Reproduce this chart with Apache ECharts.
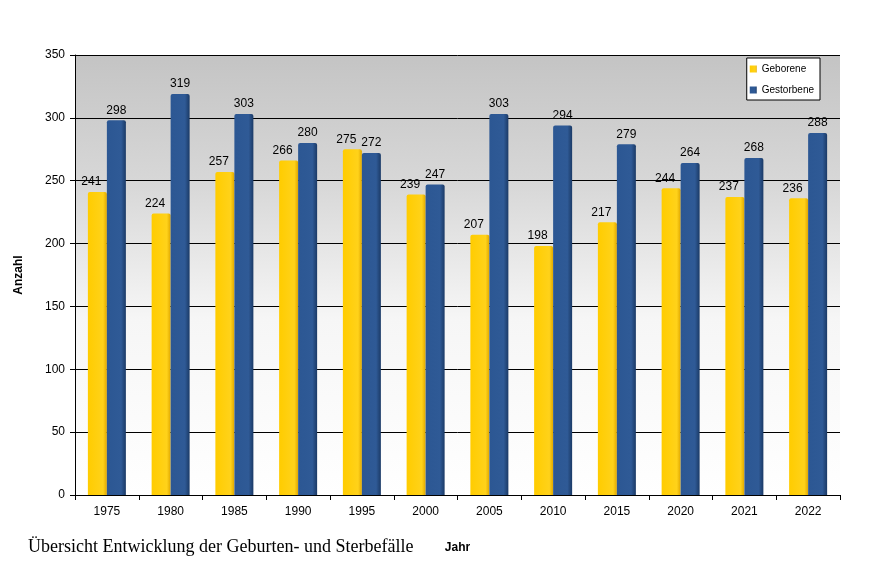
<!DOCTYPE html>
<html><head><meta charset="utf-8">
<script src="https://cdn.jsdelivr.net/npm/echarts@6/dist/echarts.min.js"></script>
<style>html,body{margin:0;padding:0;background:#fff}#c{width:876px;height:574px}</style>
</head><body><div id="c"></div>
<script>
const categories = ['1975','1980','1985','1990','1995','2000','2005','2010','2015','2020','2021','2022'];
const geborene = [241,224,257,266,275,239,207,198,217,244,237,236];
const gestorbene = [298,319,303,280,272,247,303,294,279,264,268,288];
const yTicks = [0,50,100,150,200,250,300,350];

const chart = echarts.init(document.getElementById('c'));
const lbl = {show:true,position:'top',color:'#000',fontFamily:'Liberation Sans, Arial',fontSize:12,distance:4};
chart.setOption({
  animation:false,
  title:[
    {text:'Übersicht Entwicklung der Geburten- und Sterbefälle',left:23,top:533,
     textStyle:{fontFamily:'Liberation Serif, Times New Roman',fontWeight:'normal',fontSize:18,color:'#000'}},
  ],
  legend:{
    orient:'vertical',right:56,top:58,itemWidth:7,itemHeight:7,itemGap:11,
    backgroundColor:'#fff',borderColor:'#000',borderWidth:1,padding:[6,6,5,3],
    textStyle:{fontFamily:'Liberation Sans, Arial',fontSize:10,color:'#000'},
    data:[{name:'Geborene',icon:'rect'},{name:'Gestorbene',icon:'rect'}]
  },
  grid:{left:75,right:36,top:55,bottom:79,show:true,borderWidth:0,
    backgroundColor:new echarts.graphic.LinearGradient(0,0,0,1,[
      {offset:0,color:'#c4c4c4'},{offset:0.3,color:'#d8d8d8'},{offset:0.6,color:'#f6f6f6'},{offset:1,color:'#ffffff'}])},
  xAxis:{type:'category',data:categories,name:'Jahr',nameLocation:'middle',nameGap:47,
    nameTextStyle:{fontFamily:'Liberation Sans, Arial',fontWeight:'bold',fontSize:12,color:'#000'},
    axisLine:{lineStyle:{color:'#000'}},axisTick:{show:true,length:5,lineStyle:{color:'#000'}},
    axisLabel:{color:'#000',fontFamily:'Liberation Sans, Arial',fontSize:12,margin:11}},
  yAxis:{type:'value',min:0,max:350,interval:50,name:'Anzahl',nameLocation:'middle',nameGap:50,
    nameTextStyle:{fontFamily:'Liberation Sans, Arial',fontWeight:'bold',fontSize:12,color:'#000'},
    axisLine:{show:true,lineStyle:{color:'#000'}},axisTick:{show:true,length:5,lineStyle:{color:'#000'}},
    axisLabel:{color:'#000',fontFamily:'Liberation Sans, Arial',fontSize:12,margin:10,
      formatter:v=>yTicks.includes(v)?String(v):''},
    splitLine:{lineStyle:{color:'#000',width:1}}},
  series:[
    {name:'Geborene',type:'bar',data:geborene,barWidth:19,barGap:'0%',
     itemStyle:{color:new echarts.graphic.LinearGradient(0,0,1,0,[
       {offset:0,color:'#ffcc00'},{offset:0.8,color:'#ffd21a'},{offset:1,color:'#e0a800'}]),borderRadius:[2,2,0,0]},
     label:Object.assign({},lbl,{offset:[-6,0]})},
    {name:'Gestorbene',type:'bar',data:gestorbene,barWidth:19,
     itemStyle:{color:new echarts.graphic.LinearGradient(0,0,1,0,[
       {offset:0,color:'#2c5793'},{offset:0.75,color:'#2f5a96'},{offset:1,color:'#1b3a66'}]),borderRadius:[2,2,0,0]},
     label:lbl}
  ]
});
</script></body></html>
